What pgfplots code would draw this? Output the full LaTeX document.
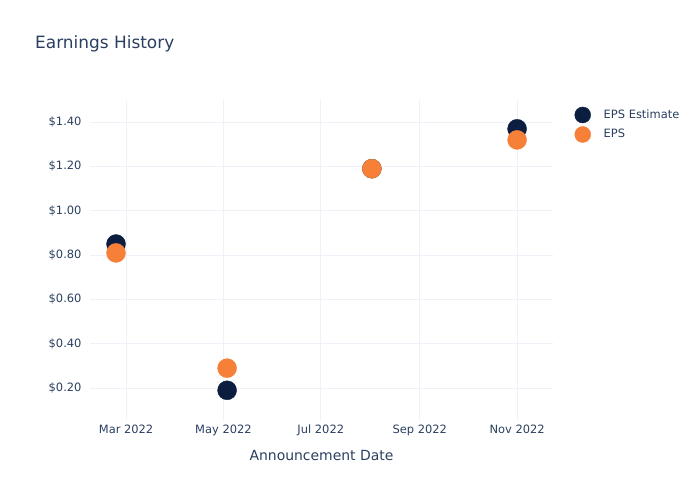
\documentclass[border=0pt]{standalone}
\usepackage{fontspec}
\setmainfont{DejaVu Sans}
\usepackage{pgfplots}
\pgfplotsset{compat=1.18}
\definecolor{navy}{RGB}{12,30,64}
\definecolor{orng}{RGB}{247,128,56}
\definecolor{txt}{RGB}{42,63,95}
\definecolor{grd}{RGB}{238,241,248}
\begin{document}
\begin{tikzpicture}[x=1bp,y=1bp]
\path[use as bounding box] (0,0) rectangle (700,500);
\node[anchor=west,text=txt,font=\fontsize{17}{20}\selectfont,inner sep=0pt] at (35,456) {Earnings History};
\begin{axis}[
  at={(90bp,80bp)}, anchor=south west,
  scale only axis, width=463bp, height=320bp,
  xmin=36.4, xmax=326.5, ymin=0.056, ymax=1.50,
  axis line style={draw=none},
  tick style={draw=none},
  grid=major, major grid style={grd, line width=0.8bp},
  xtick={59,120,181,243,304},
  xticklabels={Mar 2022,May 2022,Jul 2022,Sep 2022,Nov 2022},
  ytick={0.2,0.4,0.6,0.8,1.0,1.2,1.4},
  yticklabels={\$0.20,\$0.40,\$0.60,\$0.80,\$1.00,\$1.20,\$1.40},
  ticklabel style={text=txt,font=\fontsize{11.5}{13}\selectfont},
  xticklabel style={yshift=-1bp},
  yticklabel style={xshift=-5bp},
  xlabel={Announcement Date},
  xlabel style={text=txt,font=\fontsize{14}{16}\selectfont,yshift=-8bp},
  legend style={at={(1.04,0.985)},anchor=north west,draw=none,fill=none,
    font=\fontsize{11.5}{13}\selectfont,text=txt,row sep=3.5bp},
  legend image post style={mark size=8bp},
  legend cell align=left,
]
\addplot[only marks, mark=*, mark size=9.5bp, color=navy, mark options={fill=navy,draw=navy}]
  coordinates {(52.7,0.85) (122.3,0.19) (213,1.19) (304,1.37)};
\addlegendentry{\hspace{11bp}EPS Estimate}
\addplot[only marks, mark=*, mark size=9.5bp, color=orng, mark options={fill=orng,draw=orng}]
  coordinates {(52.7,0.81) (122.3,0.29) (213,1.19) (304,1.32)};
\addlegendentry{\hspace{11bp}EPS}
\end{axis}
\end{tikzpicture}
\end{document}
